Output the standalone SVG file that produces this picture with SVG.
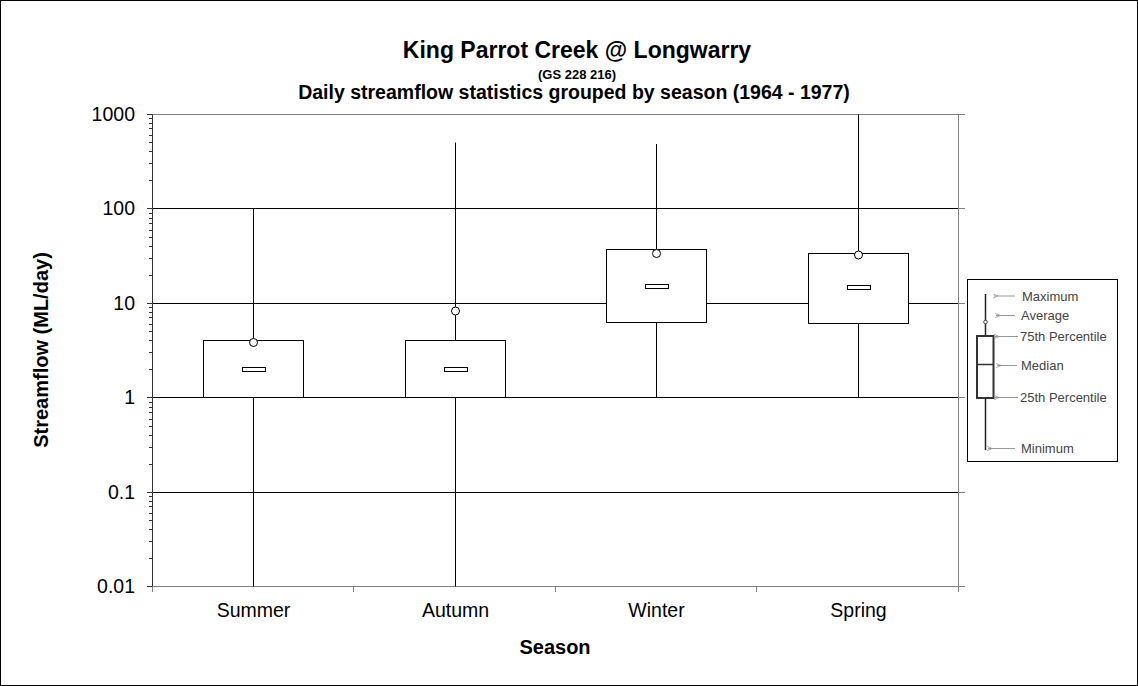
<svg xmlns="http://www.w3.org/2000/svg" width="1138" height="686" viewBox="0 0 1138 686">
<defs>
<style>
.t{font-family:"Liberation Sans",Arial,sans-serif;fill:#000}
.b{font-weight:bold}
.grid{stroke:#000;stroke-width:1;fill:none}
.gray{stroke:#808080;stroke-width:1;fill:none}
.ax{stroke:#333;stroke-width:1;fill:none}
.box{fill:#fff;stroke:#000;stroke-width:1}
.wh{stroke:#000;stroke-width:1}
.lg{font-family:"Liberation Sans",Arial,sans-serif;font-size:13px;fill:#444}
.arr{stroke:#999;stroke-width:1;fill:none;marker-end:url(#ah)}
</style>
<marker id="ah" viewBox="0 0 6 6" refX="5" refY="3" markerWidth="5" markerHeight="5" orient="auto" markerUnits="userSpaceOnUse">
<path d="M6,0.5 L0,3 L6,5.5" fill="none" stroke="#999" stroke-width="1"/>
</marker>
</defs>
<rect x="0.5" y="0.5" width="1137" height="685" fill="#fff" stroke="#000" stroke-width="1"/>

<g id="title">
<text class="t b" x="577" y="58" font-size="23" text-anchor="middle">King Parrot Creek @ Longwarry</text>
<text class="t b" x="577" y="79" font-size="13" text-anchor="middle">(GS  228 216)</text>
<text class="t b" x="574" y="99" font-size="19.5" text-anchor="middle">Daily streamflow statistics grouped by season (1964 - 1977)</text>
</g>

<g id="plot-area">
<path class="grid" d="M152,208.5H958 M152,303.5H958 M152,397.5H958 M152,492.5H958"/>
<path class="gray" d="M152,114.5H958 M958.5,114.5V586.5 M152,586.5H958"/>
<path class="gray" d="M958,114.5H965 M958,208.5H965 M958,303.5H965 M958,397.5H965 M958,492.5H965 M958,586.5H965"/>
<path class="gray" d="M152.5,586V592 M353.5,586V592 M555.5,586V592 M756.5,586V592 M958.5,586V592"/>
<path class="ax" d="M152.5,114.5V586.5"/>
<path class="ax" d="M147,114.5H152 M147,208.5H152 M147,303.5H152 M147,397.5H152 M147,492.5H152 M147,586.5H152"/>
<path class="ax" d="M149,558.5H152 M149,541.5H152 M149,529.5H152 M149,520.5H152 M149,513.5H152 M149,506.5H152 M149,501.5H152 M149,496.5H152
M149,464.5H152 M149,447.5H152 M149,435.5H152 M149,426.5H152 M149,419.5H152 M149,412.5H152 M149,407.5H152 M149,402.5H152
M149,369.5H152 M149,352.5H152 M149,340.5H152 M149,331.5H152 M149,324.5H152 M149,317.5H152 M149,312.5H152 M149,307.5H152
M149,275.5H152 M149,258.5H152 M149,246.5H152 M149,237.5H152 M149,230.5H152 M149,223.5H152 M149,218.5H152 M149,213.5H152
M149,180.5H152 M149,163.5H152 M149,151.5H152 M149,142.5H152 M149,135.5H152 M149,128.5H152 M149,123.5H152 M149,118.5H152"/>
</g>

<g id="y-axis-labels" class="t" font-size="19.5" text-anchor="end">
<text x="135" y="121">1000</text>
<text x="135" y="215">100</text>
<text x="135" y="310">10</text>
<text x="135" y="404">1</text>
<text x="135" y="499">0.1</text>
<text x="135" y="593">0.01</text>
</g>

<g id="x-axis-labels" class="t" font-size="19.5" text-anchor="middle">
<text x="253.5" y="617">Summer</text>
<text x="455.5" y="617">Autumn</text>
<text x="656.5" y="617">Winter</text>
<text x="858.5" y="617">Spring</text>
</g>

<g id="axis-titles">
<text class="t b" x="555" y="654" font-size="20" text-anchor="middle">Season</text>
<text class="t b" font-size="20" text-anchor="middle" transform="translate(48,350) rotate(-90)">Streamflow (ML/day)</text>
</g>

<g id="summer">
<line class="wh" x1="253.5" y1="208.5" x2="253.5" y2="586.5"/>
<rect class="box" x="203.5" y="340.5" width="100" height="57"/>
<rect class="box" x="242.5" y="367.5" width="23" height="4"/>
<circle class="box" cx="253.5" cy="342.5" r="4"/>
</g>

<g id="autumn">
<line class="wh" x1="455.5" y1="142.5" x2="455.5" y2="586.5"/>
<rect class="box" x="405.5" y="340.5" width="100" height="57"/>
<rect class="box" x="444.5" y="367.5" width="23" height="4"/>
<circle class="box" cx="455.5" cy="311" r="4"/>
</g>

<g id="winter">
<line class="wh" x1="656.5" y1="144" x2="656.5" y2="397.5"/>
<rect class="box" x="606.5" y="249.5" width="100" height="73"/>
<rect class="box" x="645.5" y="284.5" width="23" height="4"/>
<circle class="box" cx="656.5" cy="253.5" r="4"/>
</g>

<g id="spring">
<line class="wh" x1="858.5" y1="114.5" x2="858.5" y2="397.5"/>
<rect class="box" x="808.5" y="253.5" width="100" height="70"/>
<rect class="box" x="847.5" y="285.5" width="23" height="4"/>
<circle class="box" cx="858.5" cy="255" r="4"/>
</g>

<g id="legend">
<rect x="967.5" y="279.5" width="150" height="182" fill="#fff" stroke="#000" stroke-width="1"/>
<line x1="985.5" y1="294" x2="985.5" y2="450" stroke="#222" stroke-width="1.5"/>
<rect x="977" y="336" width="16.5" height="62" fill="#fff" stroke="#333" stroke-width="2"/>
<line x1="977" y1="364.5" x2="993.5" y2="364.5" stroke="#333" stroke-width="1.5"/>
<circle cx="985.5" cy="322" r="1.8" fill="#fff" stroke="#444" stroke-width="1"/>
<text class="lg" x="1022" y="300.5">Maximum</text>
<text class="lg" x="1021" y="320">Average</text>
<text class="lg" x="1020" y="341">75th Percentile</text>
<text class="lg" x="1021" y="370">Median</text>
<text class="lg" x="1020" y="402">25th Percentile</text>
<text class="lg" x="1021" y="452.5">Minimum</text>
</g>

<g id="connectors">
<line class="arr" x1="1015" y1="296" x2="994" y2="296"/>
<line class="arr" x1="1015" y1="315.5" x2="996" y2="315.5"/>
<line class="arr" x1="1018" y1="336.5" x2="995" y2="336.5"/>
<line class="arr" x1="1017" y1="365.5" x2="997" y2="365.5"/>
<line class="arr" x1="1018" y1="397.5" x2="995" y2="397.5"/>
<line class="arr" x1="1015" y1="448.5" x2="988" y2="448.5"/>
</g>
</svg>
